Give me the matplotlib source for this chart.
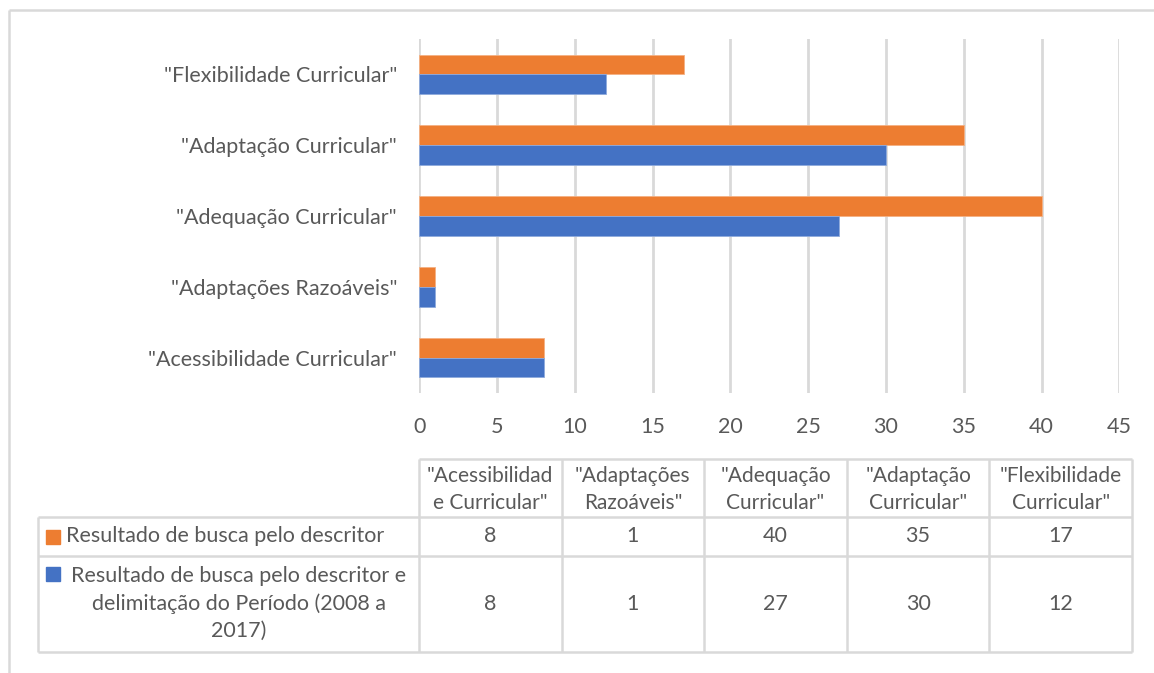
import numpy as np
import matplotlib
matplotlib.use("Agg")
import matplotlib.pyplot as plt
from matplotlib.patches import Rectangle

plt.rcParams['font.family'] = ['Lato', 'DejaVu Sans']

# data
categories = ['"Acessibilidade Curricular"', '"Adaptações Razoáveis"', '"Adequação Curricular"',
              '"Adaptação Curricular"', '"Flexibilidade Curricular"']
header_labels = ['"Acessibilidad\ne Curricular"', '"Adaptações\nRazoáveis"', '"Adequação\nCurricular"',
                 '"Adaptação\nCurricular"', '"Flexibilidade\nCurricular"']
busca = [8, 1, 40, 35, 17]
busca_periodo = [8, 1, 27, 30, 12]
series_names = ['Resultado de busca pelo descritor',
                'Resultado de busca pelo descritor e\ndelimitação do Período (2008 a\n2017)']
x_ticks = list(range(0, 50, 5))

W, H = 1154, 673
orange = '#ED7D31'
blue = '#4472C4'
txt = '#595959'
grid = '#d9d9d9'
fs = 15.5

fig = plt.figure(figsize=(W / 100, H / 100), dpi=100)
fig.patch.set_facecolor('white')

# main bar chart
left, right, top, bottom = 419.3, 1119.3, 39, 393
ax = fig.add_axes([left / W, 1 - bottom / H, (right - left) / W, (bottom - top) / H])
y = np.arange(len(categories))
bh = 0.28
ax.barh(y + bh / 2, busca, height=bh, color=orange, edgecolor='#f4b183', linewidth=0.6, zorder=3)
ax.barh(y - bh / 2, busca_periodo, height=bh, color=blue, edgecolor='#8faadc', linewidth=0.6, zorder=3)
ax.set_xlim(0, 45)
ax.set_ylim(-0.5, len(categories) - 0.5)
ax.set_xticks(x_ticks)
ax.set_yticks(y)
ax.set_yticklabels(categories)
ax.xaxis.grid(True, color=grid, linewidth=2.0, zorder=0)
for s in ax.spines.values():
    s.set_visible(False)
ax.tick_params(axis='both', length=0, colors=txt, labelsize=fs)
ax.tick_params(axis='y', pad=16)
ax.tick_params(axis='x', pad=17)

# data table + frame in pixel coordinates
tb = fig.add_axes([0, 0, 1, 1], zorder=-1)
tb.set_xlim(0, W)
tb.set_ylim(H, 0)
tb.axis('off')

lc = dict(color=grid, linewidth=1.8, solid_capstyle='butt')
# outer frame (top and left)
tb.plot([9, W], [9.5, 9.5], **lc)
tb.plot([9, 9], [9.5, H], **lc)

col_left, col_right = 419, 1132
label_left = 38
ncol = len(categories)
col_edges = np.linspace(col_left, col_right, ncol + 1)
row_edges = [459, 517.3, 555.7, 651.7]

# horizontal lines
tb.plot([col_left, col_right], [row_edges[0]] * 2, **lc)
for ry in row_edges[1:]:
    tb.plot([label_left, col_right], [ry, ry], **lc)
# vertical lines
tb.plot([label_left, label_left], [row_edges[1], row_edges[3]], **lc)
for cx in col_edges:
    tb.plot([cx, cx], [row_edges[0], row_edges[3]], **lc)

col_centers = (col_edges[:-1] + col_edges[1:]) / 2
for cx, lab in zip(col_centers, header_labels):
    tb.text(cx, (row_edges[0] + row_edges[1]) / 2 + 1, lab, ha='center', va='center',
            color=txt, fontsize=15, linespacing=1.45)

for r, (vals, name, col) in enumerate(zip([busca, busca_periodo], series_names, [orange, blue])):
    cy = (row_edges[r + 1] + row_edges[r + 2]) / 2
    for cx, v in zip(col_centers, vals):
        tb.text(cx, cy, str(v), ha='center', va='center', color=txt, fontsize=fs)
    if r == 0:
        tb.add_patch(Rectangle((46, cy - 7), 14, 14, color=col))
        tb.text(66, cy, name, ha='left', va='center', color=txt, fontsize=fs)
    else:
        tb.add_patch(Rectangle((46, row_edges[r + 1] + 11), 14, 14, color=col))
        tb.text(239, cy, name, ha='center', va='center', color=txt, fontsize=fs,
                linespacing=1.45)

fig.savefig('out.png', dpi=100)
